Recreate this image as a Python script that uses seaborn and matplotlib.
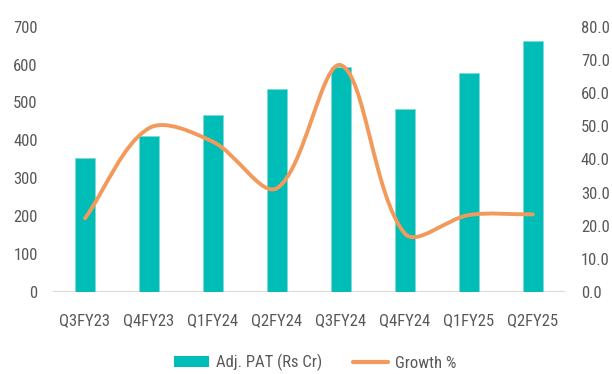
#####----- Adj. PAT bars with smoothed growth % line on a secondary axis

import numpy as np
import seaborn as sns
import matplotlib.pyplot as plt
from matplotlib.path import Path
from matplotlib.patches import PathPatch, Patch
from matplotlib.lines import Line2D
from matplotlib.ticker import FormatStrFormatter

#####----- DATA
quarters = ["Q3FY23", "Q4FY23", "Q1FY24", "Q2FY24", "Q3FY24", "Q4FY24", "Q1FY25", "Q2FY25"]
adj_pat = [354, 412, 466, 536, 594, 484, 577, 661]
growth = [22.2, 49.4, 45.3, 31.3, 68.4, 17.6, 23.2, 23.4]

teal = "#00BDB7"
orange = "#F29A5C"
grey_text = "#595959"

#####----- FUNCTIONS

def smooth_line(ax, xs, ys, **kw):
    # excel-like smoothed line: cubic bezier through the points,
    # control points built in screen space
    pts = ax.transData.transform(np.column_stack([xs, ys]))
    n = len(pts)
    verts = [pts[0]]
    codes = [Path.MOVETO]
    for i in range(n - 1):
        p0 = pts[max(i - 1, 0)]
        p1 = pts[i]
        p2 = pts[i + 1]
        p3 = pts[min(i + 2, n - 1)]
        d01 = np.linalg.norm(p1 - p0)
        d12 = np.linalg.norm(p2 - p1)
        d23 = np.linalg.norm(p3 - p2)
        c1 = p1 + (p2 - p0) * (d12 / (d01 + d12)) / 3
        c2 = p2 - (p3 - p1) * (d12 / (d12 + d23)) / 3
        verts += [c1, c2, p2]
        codes += [Path.CURVE4] * 3
    verts = ax.transData.inverted().transform(np.array(verts))
    patch = PathPatch(Path(verts, codes), facecolor="none", transform=ax.transData, **kw)
    ax.add_patch(patch)
    return patch

#####----- MAIN
sns.set_style("white")
plt.rcParams['font.family'] = ['Roboto Condensed', 'Archivo Narrow', 'Liberation Sans', 'DejaVu Sans']

fig, ax = plt.subplots(figsize=(6.12, 3.74), dpi=100)
fig.subplots_adjust(left=0.0866, right=0.923, bottom=0.2193, top=0.9286)

sns.barplot(x=quarters, y=adj_pat, color=teal, width=0.31, saturation=1,
            edgecolor="#7FDAD6", linewidth=0.6, ax=ax)
ax.set_xlim(-0.5, len(quarters) - 0.5)
ax.set_ylim(0, 700)
ax.set_yticks(range(0, 701, 100))
ax.set_xlabel("")
ax.set_ylabel("")

ax2 = ax.twinx()
ax2.set_ylim(0, 80)
ax2.set_yticks(range(0, 81, 10))
ax2.yaxis.set_major_formatter(FormatStrFormatter("%.1f"))

for a in (ax, ax2):
    for s in a.spines.values():
        s.set_visible(False)
    a.tick_params(length=0, labelsize=12, labelcolor=grey_text)
ax.tick_params(axis="y", pad=11)
ax2.tick_params(axis="y", pad=11.5)
ax.tick_params(axis="x", pad=15)
ax.axhline(0, color="#D9D9D9", lw=1.5, zorder=0.5)

smooth_line(ax2, np.arange(len(quarters)), growth, edgecolor=orange, lw=2.8,
            capstyle="round", joinstyle="round")

handles = [Patch(facecolor=teal, edgecolor="none"),
           Line2D([], [], color=orange, lw=3)]
fig.legend(handles, ["Adj. PAT (Rs Cr)", "Growth %"], loc="center",
           bbox_to_anchor=(0.515, 0.03), ncol=2, frameon=False, fontsize=12,
           labelcolor=grey_text, handlelength=2.1, handleheight=0.6,
           handletextpad=0.45, columnspacing=1.8)

plt.savefig("out.png", dpi=100)
